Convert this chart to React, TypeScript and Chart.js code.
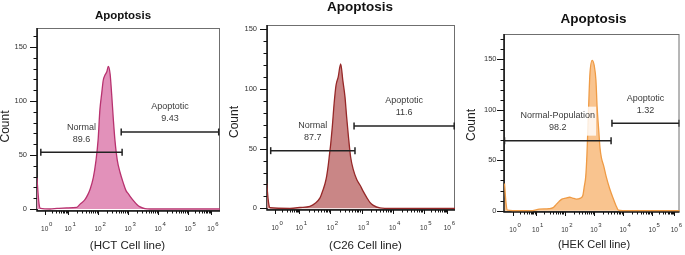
import React, { useEffect, useRef } from 'react';
import { Chart, registerables } from 'chart.js';

Chart.register(...registerables);

// ---- axis definitions (display units of the biexponential axis) ----
const DECADE_EXPONENTS = ['0', '1', '2', '3', '4', '5', '6'];
const DECADE_POSITIONS = [0.22, 1, 2, 3, 4, 5, 5.76];
const Y_MAJOR_TICKS = [0, 50, 100, 150];

// ---- HCT cell line histogram ----
const HCT_X = [-0.04, 0.03, 0.08, 0.4, 0.63, 0.95, 1.29, 1.4, 1.56, 1.67, 1.73, 1.84, 1.93, 2.0, 2.06, 2.12, 2.17, 2.23, 2.29, 2.34, 2.4, 2.45, 2.51, 2.56, 2.64, 2.73, 2.84, 2.93, 3.01, 3.06, 3.17, 3.3, 3.4, 3.56, 3.73, 6.1];
const HCT_Y = [29, 5, 0.5, 0, 0.5, 1, 1.5, 4.5, 8.6, 14, 18, 29, 45, 64, 92, 107, 119, 124, 127, 132, 125, 107, 82, 64, 45, 34, 24, 17, 14, 12, 8, 4, 2, 0.3, 0, 0];
const HCT_GATE_NAMES = ['Normal', 'Apoptotic'];
const HCT_GATE_VALUES = ['89.6', '9.43'];
const HCT_GATE_FROM = [0.09, 2.77];
const HCT_GATE_TO = [2.8, 6.02];
const HCT_GATE_LEVEL = [52.5, 71.3];

// ---- C26 cell line histogram ----
const C26_X = [-0.05, 0.01, 0.06, 0.7, 1.02, 1.34, 1.5, 1.67, 1.77, 1.83, 1.88, 1.93, 1.97, 2.01, 2.06, 2.12, 2.18, 2.25, 2.33, 2.4, 2.47, 2.52, 2.58, 2.65, 2.74, 2.85, 2.95, 3.06, 3.17, 3.27, 3.38, 3.59, 3.75, 6.05];
const C26_Y = [21, 5, 0.5, 0, 0.7, 1.7, 4, 9, 16, 21, 27, 36, 45, 54, 68, 88, 103, 110, 121, 107, 93, 77, 60, 43, 32, 24, 19.5, 14, 9, 5, 2.5, 0.3, 0, 0];
const C26_GATE_NAMES = ['Normal', 'Apoptotic'];
const C26_GATE_VALUES = ['87.7', '11.6'];
const C26_GATE_FROM = [0.08, 2.76];
const C26_GATE_TO = [2.79, 5.98];
const C26_GATE_LEVEL = [48.3, 69];

// ---- HEK cell line histogram ----
const HEK_X = [-0.07, -0.02, 0.03, 0.45, 0.89, 1.12, 1.46, 1.6, 1.7, 1.8, 1.9, 2.03, 2.17, 2.27, 2.4, 2.54, 2.62, 2.67, 2.72, 2.76, 2.81, 2.86, 2.94, 3.01, 3.07, 3.11, 3.17, 3.21, 3.26, 3.34, 3.42, 3.54, 3.65, 3.76, 3.84, 3.98, 6.0];
const HEK_Y = [27, 8, 0.5, 0, 0, 1.5, 2, 3, 6, 9, 11.5, 12.5, 13.3, 12.5, 11.5, 12.5, 15, 24, 34, 55, 95, 134, 149, 144, 129, 103, 78, 62, 52, 44, 34, 22, 13, 5, 0.5, 0, 0];
const HEK_GATE_NAMES = ['Normal-Population', 'Apoptotic'];
const HEK_GATE_VALUES = ['98.2', '1.32'];
const HEK_GATE_FROM = [-0.07, 3.62];
const HEK_GATE_TO = [3.59, 5.93];
const HEK_GATE_LEVEL = [69.4, 86.6];

const SANS = '"Liberation Sans", Arial, Helvetica, sans-serif';

type Panel = {
  xs: number[]; ys: number[];
  gateNames: string[]; gateValues: string[]; gateFrom: number[]; gateTo: number[]; gateLevel: number[];
  fill: string; stroke: string;
  box: { left: number; right: number; top: number; bottom: number };
  xMin: number; xMax: number; yMin: number; yMax: number;
  title: string; titleX: number; titleY: number; titleSize: number;
  xLabel: string; xLabelX: number; xLabelY: number; xLabelSize: number;
  countX: number; countY: number;
  yLabelGap: number;
  backdrop: boolean;
};

const PANELS: Panel[] = [
  {
    xs: HCT_X, ys: HCT_Y,
    gateNames: HCT_GATE_NAMES, gateValues: HCT_GATE_VALUES, gateFrom: HCT_GATE_FROM, gateTo: HCT_GATE_TO, gateLevel: HCT_GATE_LEVEL,
    fill: '#e291ba', stroke: '#b8326f',
    box: { left: 37, right: 220, top: 28, bottom: 211 },
    xMin: -0.037, xMax: 6.063, yMin: -1.85, yMax: 167.6,
    title: 'Apoptosis', titleX: 123, titleY: 16, titleSize: 11.5,
    xLabel: '(HCT Cell line)', xLabelX: 127.5, xLabelY: 246, xLabelSize: 11.5,
    countX: 5.5, countY: 126.5, yLabelGap: 10, backdrop: false,
  },
  {
    xs: C26_X, ys: C26_Y,
    gateNames: C26_GATE_NAMES, gateValues: C26_GATE_VALUES, gateFrom: C26_GATE_FROM, gateTo: C26_GATE_TO, gateLevel: C26_GATE_LEVEL,
    fill: '#c98686', stroke: '#962828',
    box: { left: 267, right: 455, top: 25, bottom: 210 },
    xMin: -0.039, xMax: 6.006, yMin: -1.4, yMax: 153.6,
    title: 'Apoptosis', titleX: 360, titleY: 7, titleSize: 13.5,
    xLabel: '(C26 Cell line)', xLabelX: 365.5, xLabelY: 246, xLabelSize: 11.5,
    countX: 235, countY: 122, yLabelGap: 10, backdrop: false,
  },
  {
    xs: HEK_X, ys: HEK_Y,
    gateNames: HEK_GATE_NAMES, gateValues: HEK_GATE_VALUES, gateFrom: HEK_GATE_FROM, gateTo: HEK_GATE_TO, gateLevel: HEK_GATE_LEVEL,
    fill: '#f9c48f', stroke: '#ef9b45',
    box: { left: 504, right: 683, top: 34, bottom: 212 },
    xMin: -0.088, xMax: 5.94, yMin: -1.3, yMax: 175.1,
    title: 'Apoptosis', titleX: 593.5, titleY: 19, titleSize: 13.5,
    xLabel: '(HEK Cell line)', xLabelX: 594, xLabelY: 245, xLabelSize: 11,
    countX: 472, countY: 125, yLabelGap: 7.5, backdrop: true,
  },
];

const W = 685;
const H = 255;

function minorPositions(): number[] {
  const out: number[] = [];
  for (let i = 0; i < DECADE_POSITIONS.length - 1; i++) {
    const a = DECADE_POSITIONS[i];
    const b = DECADE_POSITIONS[i + 1];
    for (let m = 2; m <= 9; m++) out.push(a + (b - a) * Math.log10(m));
  }
  return out;
}

function makePlugin(p: Panel) {
  return {
    id: 'flowDecor',
    beforeDatasetsDraw(chart: any) {
      const { ctx, chartArea: a } = chart;
      ctx.save();
      ctx.strokeStyle = '#6f6f6f';
      ctx.lineWidth = 1;
      ctx.strokeRect(a.left + 0.5, a.top + 0.5, a.right - a.left - 1, a.bottom - a.top - 1);
      ctx.strokeStyle = '#111';
      ctx.lineWidth = 1.5;
      ctx.beginPath();
      ctx.moveTo(a.left, a.top);
      ctx.lineTo(a.left, a.bottom);
      ctx.lineTo(a.right, a.bottom);
      ctx.stroke();
      ctx.restore();
    },
    afterDatasetsDraw(chart: any) {
      const { ctx } = chart;
      const xs = chart.scales.x;
      const ys = chart.scales.y;
      ctx.save();
      ctx.font = `9px ${SANS}`;
      ctx.textAlign = 'center';
      ctx.textBaseline = 'middle';
      for (let i = 0; i < p.gateNames.length; i++) {
        const cx = (xs.getPixelForValue(p.gateFrom[i]) + xs.getPixelForValue(p.gateTo[i])) / 2;
        const gy = ys.getPixelForValue(p.gateLevel[i]);
        if (p.backdrop && i === 0) {
          const w = ctx.measureText(p.gateNames[i]).width;
          ctx.fillStyle = 'rgba(255,255,255,0.82)';
          ctx.fillRect(cx - w / 2 - 1, gy - 34, w + 2, 29);
        }
        ctx.fillStyle = '#3a3a3a';
        ctx.fillText(p.gateNames[i], cx, gy - 25);
        ctx.fillText(p.gateValues[i], cx, gy - 13);
      }
      ctx.restore();
    },
    afterDraw(chart: any) {
      const { ctx, chartArea: a } = chart;
      const xs = chart.scales.x;
      const ys = chart.scales.y;
      ctx.save();
      ctx.strokeStyle = '#111';
      ctx.lineWidth = 1;
      // y ticks
      for (let v = 0; v <= p.yMax; v += 10) {
        const y = Math.round(ys.getPixelForValue(v)) + 0.5;
        const major = Y_MAJOR_TICKS.includes(v);
        ctx.beginPath();
        ctx.moveTo(a.left - (major ? 7 : 3.5), y);
        ctx.lineTo(a.left, y);
        ctx.stroke();
      }
      ctx.fillStyle = '#333';
      ctx.font = `7.5px ${SANS}`;
      ctx.textAlign = 'right';
      ctx.textBaseline = 'middle';
      for (const v of Y_MAJOR_TICKS) {
        ctx.fillText(String(v), a.left - p.yLabelGap, ys.getPixelForValue(v));
      }
      // x ticks
      for (const pos of DECADE_POSITIONS) {
        const x = Math.round(xs.getPixelForValue(pos)) + 0.5;
        ctx.beginPath();
        ctx.moveTo(x, a.bottom);
        ctx.lineTo(x, a.bottom + 4);
        ctx.stroke();
      }
      for (const pos of minorPositions()) {
        const x = Math.round(xs.getPixelForValue(pos)) + 0.5;
        ctx.beginPath();
        ctx.moveTo(x, a.bottom);
        ctx.lineTo(x, a.bottom + 2.5);
        ctx.stroke();
      }
      // x tick labels 10^n
      for (let i = 0; i < DECADE_POSITIONS.length; i++) {
        const x = xs.getPixelForValue(DECADE_POSITIONS[i]);
        ctx.font = `6.5px ${SANS}`;
        ctx.textAlign = 'center';
        const w = ctx.measureText('10').width;
        ctx.fillText('10', x, a.bottom + 18);
        ctx.font = `6px ${SANS}`;
        ctx.textAlign = 'left';
        ctx.fillText(DECADE_EXPONENTS[i], x + w / 2 + 0.8, a.bottom + 13.5);
      }
      // title
      ctx.fillStyle = '#111';
      ctx.textAlign = 'center';
      ctx.font = `bold ${p.titleSize}px ${SANS}`;
      ctx.fillText(p.title, p.titleX, p.titleY);
      // x axis title
      ctx.fillStyle = '#222';
      ctx.font = `${p.xLabelSize}px ${SANS}`;
      ctx.fillText(p.xLabel, p.xLabelX, p.xLabelY);
      // y axis title
      ctx.translate(p.countX, p.countY);
      ctx.rotate(-Math.PI / 2);
      ctx.font = `12px ${SANS}`;
      ctx.fillText('Count', 0, 0);
      ctx.restore();
    },
  };
}

function FlowPanel({ panel }: { panel: Panel }) {
  const ref = useRef<HTMLCanvasElement | null>(null);
  useEffect(() => {
    if (!ref.current) return;
    const p = panel;
    const histogram = p.xs.map((x, i) => ({ x, y: p.ys[i] }));
    const gateSets = p.gateNames.map((name, i) => ({
      label: name,
      data: [
        { x: p.gateFrom[i], y: p.gateLevel[i] },
        { x: p.gateTo[i], y: p.gateLevel[i] },
      ],
      borderColor: '#222',
      borderWidth: 1.5,
      fill: false,
      tension: 0,
      pointStyle: 'line',
      pointRotation: 90,
      pointRadius: 3.5,
      pointBorderWidth: 1.5,
      pointBorderColor: '#222',
      order: 0,
    }));
    const chart = new Chart(ref.current, {
      type: 'line',
      data: {
        datasets: [
          {
            label: 'histogram',
            data: histogram,
            borderColor: p.stroke,
            backgroundColor: p.fill,
            borderWidth: 1.3,
            fill: 'origin',
            pointRadius: 0,
            cubicInterpolationMode: 'monotone',
            tension: 0.3,
            order: 1,
          } as any,
          ...(gateSets as any[]),
        ],
      },
      options: {
        responsive: false,
        maintainAspectRatio: false,
        animation: false,
        devicePixelRatio: 1,
        events: [],
        layout: {
          padding: {
            left: p.box.left,
            right: W - p.box.right,
            top: p.box.top,
            bottom: H - p.box.bottom,
          },
        },
        scales: {
          x: { type: 'linear', min: p.xMin, max: p.xMax, display: false },
          y: { type: 'linear', min: p.yMin, max: p.yMax, display: false },
        },
        plugins: {
          legend: { display: false },
          tooltip: { enabled: false },
          title: { display: false },
        },
      },
      plugins: [makePlugin(p)],
    });
    return () => chart.destroy();
  }, [panel]);
  return (
    <canvas
      ref={ref}
      width={W}
      height={H}
      style={{ position: 'absolute', left: 0, top: 0, width: W, height: H }}
    />
  );
}

export default function App() {
  return (
    <div
      style={{
        position: 'fixed',
        left: 0,
        top: 0,
        width: W,
        height: H,
        background: '#fff',
        overflow: 'hidden',
      }}
    >
      {PANELS.map((p, i) => (
        <FlowPanel key={i} panel={p} />
      ))}
    </div>
  );
}
